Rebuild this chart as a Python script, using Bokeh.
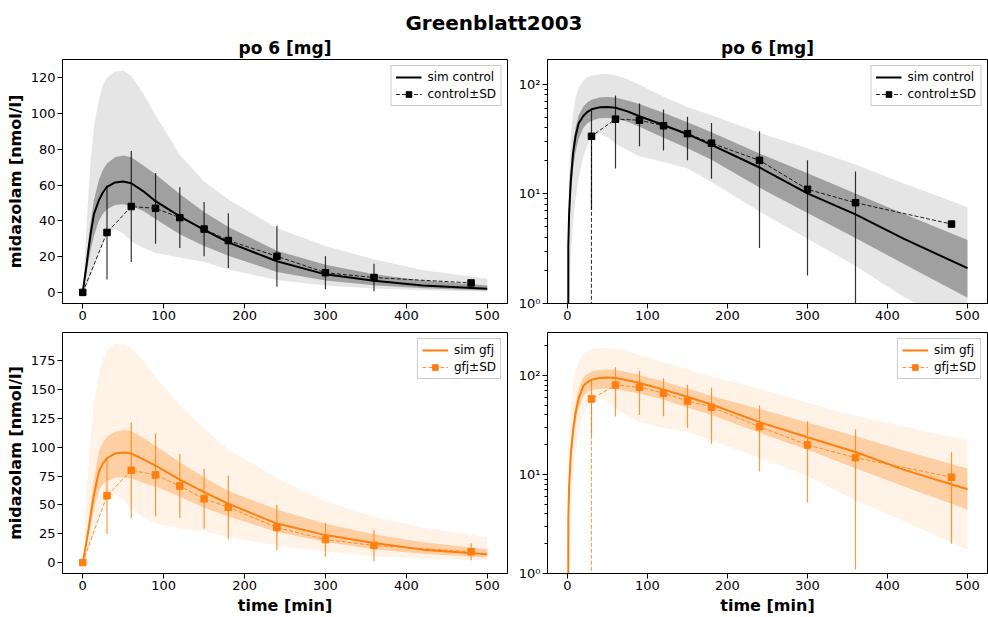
import numpy as np
from bokeh.plotting import figure
from bokeh.models import (Range1d, FixedTicker, CustomJSTickFormatter, Legend,
                          LegendItem, Div)
from bokeh.layouts import column, row
from bokeh.embed import file_html
from bokeh.resources import INLINE

# ---------------- data ----------------
t_sim = [0, 1, 2, 4, 7, 10, 14, 20, 25, 30, 40, 50, 60, 75, 90, 120, 150,
         180, 240, 300, 360, 420, 500]

ctrl_mean = [0, 3.3, 6.5, 12.8, 23.5, 33.5, 44, 51.5, 56, 59, 61.5, 62, 61,
             56.5, 51, 42.5, 35, 28, 17.4, 10.1, 6.5, 3.9, 2.1]
ctrl_sd_lo = [0, 2.5, 5, 9.5, 17, 24, 32, 40, 44, 46.5, 48.8, 49.3, 48.3,
              45.5, 41, 32.5, 26, 20.5, 11.4, 6.7, 3.95, 2.3, 1.13]
ctrl_sd_hi = [0, 4.5, 9, 17, 29, 40, 52, 63, 68.5, 72, 75.5, 76.5, 75.5, 71,
              66, 55, 45, 36.5, 23.3, 15.4, 10.1, 6.6, 3.8]
ctrl_min = [0, 0.5, 1, 2.5, 5.5, 9, 14, 22, 28, 32.5, 35.5, 33, 28.5, 25, 22,
            19.5, 17, 12.8, 6.9, 3.9, 2.2, 1.15, 0.55]
ctrl_max = [0, 8, 16, 32, 55, 75, 93, 108, 116, 120, 123.5, 124, 121, 111, 99,
            77, 62, 52, 36, 26, 18.5, 12.5, 7.6]

gfj_mean = [0, 3.5, 7.5, 15.5, 28, 41.5, 59, 79, 86, 90.5, 94.5, 95.5, 94.5,
            89.5, 84, 72, 61, 51, 33.8, 23.8, 16.9, 11.2, 7.1]
gfj_sd_lo = [0, 2.8, 6, 12, 22, 33, 47, 62, 68, 71, 73.5, 74, 73, 69, 66, 57,
             47.5, 40, 26.4, 17.8, 11.6, 7.6, 4.4]
gfj_sd_hi = [0, 4.5, 9.5, 19.5, 35, 52, 73, 96, 104, 109, 113.5, 115, 114,
             108, 101, 87, 74, 62, 46, 33.6, 24.5, 17.5, 11.5]
gfj_min = [0, 0.8, 1.7, 4, 9, 16, 26, 40, 48.5, 54, 59, 55, 46.5, 39, 34,
           29.5, 27.2, 22, 14.8, 9.6, 5.5, 3.4, 1.75]
gfj_max = [0, 12, 24, 48, 82, 110, 138, 163, 176, 184, 189.5, 190, 186, 175,
           161, 136, 116, 98, 73, 53, 39.5, 30.5, 22]

t_data = [0, 30, 60, 90, 120, 150, 180, 240, 300, 360, 480]
ctrl_data = [0, 33.5, 48, 47, 41.8, 35.4, 29, 20.2, 11, 8.3, 5.3]
ctrl_sd = [0, 26.3, 31, 19.8, 17, 15.2, 15.3, 17, 9.2, 7.7, 0]
gfj_data = [0, 58, 80, 76, 66.4, 55.3, 47.9, 30.4, 19.9, 14.8, 9.4]
gfj_sd = [0, 33, 41.5, 36, 27.7, 26, 27.4, 19.7, 14.7, 13.7, 7.4]

x_ticks = [0, 100, 200, 300, 400, 500]
ctrl_lin_ticks = [0, 20, 40, 60, 80, 100, 120]
gfj_lin_ticks = [0, 25, 50, 75, 100, 125, 150, 175]
log_ticks = [1, 10, 100]

FONT = "DejaVu Sans"
BLACK = "#000000"
ORANGE = "#ff7f0e"


def style(p, log, ylabel=None, xlabel=None, yticks=None):
    p.grid.grid_line_color = None
    p.outline_line_color = BLACK
    p.outline_line_alpha = 1
    p.outline_line_width = 1
    p.background_fill_color = "white"
    p.border_fill_color = "white"
    p.xaxis.ticker = FixedTicker(ticks=x_ticks)
    if log:
        minors = [m * d for d in (1, 10, 100) for m in range(2, 10)]
        p.yaxis.ticker = FixedTicker(ticks=log_ticks, minor_ticks=minors)
        p.yaxis.formatter = CustomJSTickFormatter(code="""
            const e = Math.round(Math.log10(tick));
            const sup = {'0':'\u2070','1':'\u00b9','2':'\u00b2','3':'\u00b3','-':'\u207b'};
            return '10' + String(e).split('').map(c => sup[c]).join('');
        """)
        p.yaxis.minor_tick_line_color = BLACK
        p.yaxis.minor_tick_out = 3
        p.yaxis.minor_tick_in = 0
    else:
        p.yaxis.ticker = FixedTicker(ticks=yticks)
        p.yaxis.minor_tick_line_color = None
    p.xaxis.minor_tick_line_color = None
    for ax in (p.xaxis[0], p.yaxis[0]):
        ax.axis_line_color = BLACK
        ax.major_tick_line_color = BLACK
        ax.major_tick_out = 5
        ax.major_tick_in = 0
        ax.major_label_text_font = FONT
        ax.major_label_text_font_size = "13px"
        ax.major_label_text_color = BLACK
        ax.major_label_standoff = 2
        ax.axis_label_text_font = FONT
        ax.axis_label_text_font_size = "16px"
        ax.axis_label_text_font_style = "bold"
        ax.axis_label_text_color = BLACK
        ax.axis_label_standoff = 3
    if ylabel:
        p.yaxis.axis_label = ylabel
    if xlabel:
        p.xaxis.axis_label = xlabel
    if p.title is not None and p.title.text:
        p.title.text_font = FONT
        p.title.text_font_size = "17px"
        p.title.text_font_style = "bold"
        p.title.text_color = BLACK
        p.title.align = "center"
        p.title.standoff = 3


def panel(p, mean, lo, hi, mn, mx, dm, dsd, color, name, log):
    def f(a):
        a = np.asarray(a, dtype=float)
        if log:
            return np.where(a > 0, a, 1e-300)
        return a
    dm = np.asarray(dm, dtype=float)
    dsd = np.asarray(dsd, dtype=float)
    p.varea(x=t_sim, y1=f(mn), y2=f(mx), fill_color=color, fill_alpha=0.1)
    p.varea(x=t_sim, y1=f(lo), y2=f(hi), fill_color=color, fill_alpha=0.3)
    r_sim = p.line(t_sim, f(mean), line_color=color, line_width=2)
    p.segment(x0=t_data, y0=f(dm - dsd), x1=t_data, y1=f(dm + dsd),
              line_color=color, line_alpha=0.8, line_width=1.2)
    r_dl = p.line(t_data, f(dm), line_color=color, line_dash="4 2",
                  line_width=1, line_alpha=0.85)
    r_dm = p.scatter(t_data, f(dm), marker="square", size=6.5,
                     fill_color=color, line_color=color)
    legend = Legend(items=[LegendItem(label="sim " + name, renderers=[r_sim]),
                           LegendItem(label=name + "\u00b1SD",
                                      renderers=[r_dl, r_dm])],
                    location="top_right")
    legend.label_text_font = FONT
    legend.label_text_font_size = "12px"
    legend.label_text_color = BLACK
    legend.border_line_color = "#cccccc"
    legend.border_line_alpha = 1
    legend.background_fill_alpha = 0.8
    legend.glyph_width = 26
    legend.glyph_height = 14
    legend.label_height = 14
    legend.label_standoff = 6
    legend.spacing = 3
    legend.padding = 4
    legend.margin = 6
    p.add_layout(legend)


common = dict(output_backend="svg", toolbar_location=None,
              x_range=Range1d(-25, 525))

# top row
p_tl = figure(width=515, height=293, title="po 6 [mg]",
              y_range=Range1d(-6.2, 130.2),
              min_border_left=62, min_border_right=8,
              min_border_top=24, min_border_bottom=24, **common)
p_tr = figure(width=473, height=293, title="po 6 [mg]",
              y_axis_type="log", y_range=Range1d(1, 168),
              min_border_left=30, min_border_right=1,
              min_border_top=24, min_border_bottom=24, **common)
# bottom row
p_bl = figure(width=515, height=290, y_range=Range1d(-9.5, 199.5),
              min_border_left=62, min_border_right=8,
              min_border_top=5, min_border_bottom=40, **common)
p_br = figure(width=473, height=290, y_axis_type="log",
              y_range=Range1d(1, 272),
              min_border_left=30, min_border_right=1,
              min_border_top=5, min_border_bottom=40, **common)

panel(p_tl, ctrl_mean, ctrl_sd_lo, ctrl_sd_hi, ctrl_min, ctrl_max,
      ctrl_data, ctrl_sd, BLACK, "control", False)
panel(p_tr, ctrl_mean, ctrl_sd_lo, ctrl_sd_hi, ctrl_min, ctrl_max,
      ctrl_data, ctrl_sd, BLACK, "control", True)
panel(p_bl, gfj_mean, gfj_sd_lo, gfj_sd_hi, gfj_min, gfj_max,
      gfj_data, gfj_sd, ORANGE, "gfj", False)
panel(p_br, gfj_mean, gfj_sd_lo, gfj_sd_hi, gfj_min, gfj_max,
      gfj_data, gfj_sd, ORANGE, "gfj", True)

style(p_tl, False, ylabel="midazolam [nmol/l]", yticks=ctrl_lin_ticks)
style(p_tr, True)
style(p_bl, False, ylabel="midazolam [nmol/l]", xlabel="time [min]",
      yticks=gfj_lin_ticks)
style(p_br, True, xlabel="time [min]")

title = Div(text='<div style="width:988px;text-align:center;'
                 'font-family:\'DejaVu Sans\';font-size:20px;font-weight:bold;'
                 'color:black;padding-top:11px;line-height:24px;">'
                 'Greenblatt2003</div>',
            width=988, height=34, margin=(0, 0, 0, 0))

layout = column(title, row(p_tl, p_tr), row(p_bl, p_br))

open("out.html", "w").write(file_html(layout, INLINE))
